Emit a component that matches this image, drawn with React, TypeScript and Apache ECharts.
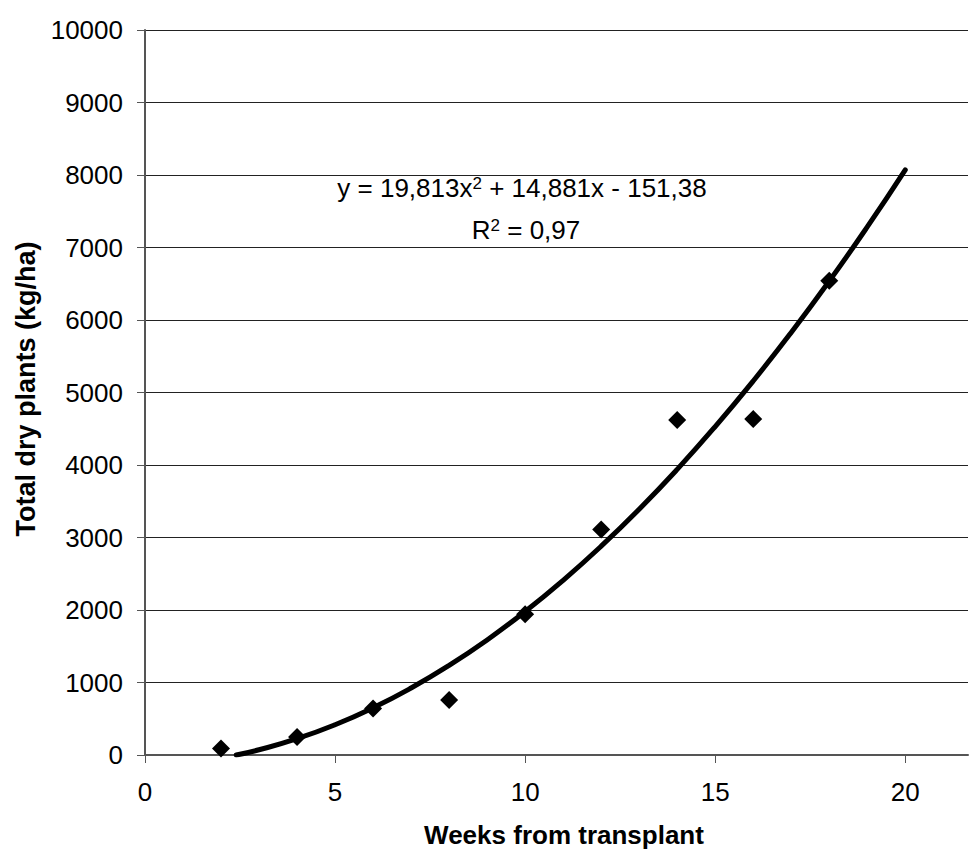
import React, { useEffect, useRef } from "react";
import * as echarts from "echarts";

// Observed data (weeks from transplant, total dry plants kg/ha)
const weeks = [2, 4, 6, 8, 10, 12, 14, 16, 18];
const dryPlants = [90, 250, 640, 760, 1940, 3110, 4620, 4635, 6540];

// Fitted trendline, points
const trendX = [2.4, 3, 4, 5, 6, 7, 8, 9, 10, 11, 12, 13, 14, 15, 16, 17, 18, 19, 20];
const trendY = [0, 72, 225, 418, 651, 924, 1236, 1587, 1979, 2410, 2880, 3390, 3940, 4530, 5159, 5828, 6536, 7284, 8071];

const xTicks = [0, 5, 10, 15, 20];
const equationText = "y = 19,813x";
const equationSup = "2";
const equationRest = " + 14,881x - 151,38";
const r2Label = "R";
const r2Rest = " = 0,97";
const xTitle = "Weeks from transplant";
const yTitle = "Total dry plants (kg/ha)";

const FONT = "'Liberation Sans', Arial, Helvetica, sans-serif";

export default function App() {
  const ref = useRef<HTMLDivElement>(null);

  useEffect(() => {
    if (!ref.current) return;
    const chart = echarts.init(ref.current, null, { renderer: "svg" });
    const axisColor = "#555";
    chart.setOption({
      animation: false,
      backgroundColor: "#fff",
      textStyle: { fontFamily: FONT },
      grid: { left: 145, right: 2, top: 30, bottom: 97 },
      xAxis: {
        type: "value",
        min: 0,
        max: 21.65,
        axisLine: { show: true, lineStyle: { color: axisColor, width: 2 } },
        axisTick: {
          show: true,
          customValues: xTicks,
          length: 8,
          lineStyle: { color: axisColor, width: 1 },
        },
        axisLabel: {
          customValues: xTicks,
          fontSize: 26,
          color: "#000",
          fontFamily: FONT,
          margin: 24,
        },
        splitLine: { show: false },
      },
      yAxis: {
        type: "value",
        min: 0,
        max: 10000,
        interval: 1000,
        axisLine: { show: true, lineStyle: { color: axisColor, width: 2 } },
        axisTick: { show: true, length: 8, lineStyle: { color: axisColor, width: 1 } },
        axisLabel: {
          fontSize: 26,
          color: "#000",
          fontFamily: FONT,
          margin: 22,
          formatter: (v: number) => String(v),
        },
        splitLine: { show: true, lineStyle: { color: "#222", width: 1 } },
      },
      series: [
        {
          type: "line",
          data: trendX.map((x, i) => [x, trendY[i]]),
          smooth: true,
          showSymbol: false,
          symbol: "none",
          lineStyle: { color: "#000", width: 5, cap: "round", join: "round" },
          z: 2,
        },
        {
          type: "scatter",
          data: weeks.map((x, i) => [x, dryPlants[i]]),
          symbol: "diamond",
          symbolSize: 18,
          itemStyle: { color: "#000", opacity: 1 },
          z: 3,
        },
      ],
      graphic: [
        {
          type: "text",
          x: 522,
          y: 188,
          style: {
            text: `{a|${equationText}}{s|${equationSup}}{a|${equationRest}}`,
            align: "center",
            verticalAlign: "middle",
            rich: {
              a: { fontSize: 26, fontFamily: FONT, fill: "#000" },
              s: { fontSize: 17, fontFamily: FONT, fill: "#000", verticalAlign: "top", padding: [0, 0, 6, 0] },
            },
          },
        },
        {
          type: "text",
          x: 526,
          y: 230,
          style: {
            text: `{a|${r2Label}}{s|${equationSup}}{a|${r2Rest}}`,
            align: "center",
            verticalAlign: "middle",
            rich: {
              a: { fontSize: 26, fontFamily: FONT, fill: "#000" },
              s: { fontSize: 17, fontFamily: FONT, fill: "#000", verticalAlign: "top", padding: [0, 0, 6, 0] },
            },
          },
        },
        {
          type: "text",
          x: 564,
          y: 835,
          style: {
            text: xTitle,
            align: "center",
            verticalAlign: "middle",
            fontSize: 26,
            fontWeight: "bold",
            fontFamily: FONT,
            fill: "#000",
          },
        },
        {
          type: "text",
          x: 26,
          y: 389,
          rotation: Math.PI / 2,
          style: {
            text: yTitle,
            align: "center",
            verticalAlign: "middle",
            fontSize: 27,
            fontWeight: "bold",
            fontFamily: FONT,
            fill: "#000",
          },
        },
      ],
    });
    return () => chart.dispose();
  }, []);

  return (
    <div
      ref={ref}
      style={{ position: "absolute", left: 0, top: 0, width: 970, height: 852 }}
    />
  );
}
